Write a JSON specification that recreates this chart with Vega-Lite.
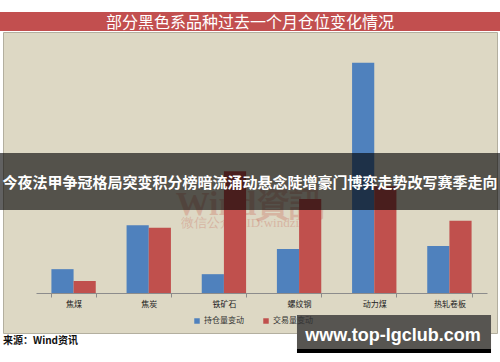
{
  "$schema": "https://vega.github.io/schema/vega-lite/v6.json",
  "width": 494,
  "height": 301,
  "autosize": "none",
  "padding": {"left": 3, "top": 32, "right": 3, "bottom": 29},
  "background": "#ffffff",
  "title": {
    "text": "部分黑色系品种过去一个月仓位变化情况",
    "fontSize": 16,
    "font": "Noto Sans CJK SC",
    "fontWeight": "normal",
    "color": "#ffffff",
    "anchor": "middle",
    "offset": 3,
    "dy": 22,
    "zindex": 1
  },
  "config": {
    "view": {"fill": "#ddd8c4", "stroke": "#b3af9f"},
    "font": "Noto Sans CJK SC"
  },
  "resolve": {"scale": {"x": "independent"}, "axis": {"x": "independent"}},
  "layer": [
    {
      "data": {"values": [{}]},
      "mark": {"type": "text", "text": "Wind資訊", "font": "Liberation Serif", "fontSize": 34, "fontWeight": "bold", "fill": "#c0392b", "opacity": 0.22},
      "encoding": {
        "x": {"datum": 0.5, "type": "quantitative", "scale": {"domain": [0, 1], "nice": false, "zero": false}, "axis": null},
        "y": {"datum": 0.70, "type": "quantitative", "axis": null}
      }
    },
    {
      "data": {"values": [{}]},
      "mark": {"type": "text", "text": "微信公众号ID:windzixun", "font": "Liberation Serif", "fontSize": 13, "fill": "#c0392b", "opacity": 0.22},
      "encoding": {
        "x": {"datum": 0.5, "type": "quantitative", "scale": {"domain": [0, 1], "nice": false, "zero": false}, "axis": null},
        "y": {"datum": 0.554, "type": "quantitative", "axis": null}
      }
    },
    {
      "data": {
        "values": [
          {"品种": "焦煤", "指标": "持仓量变动", "变动": 0.19},
          {"品种": "焦煤", "指标": "交易量变动", "变动": 0.096},
          {"品种": "焦炭", "指标": "持仓量变动", "变动": 0.54},
          {"品种": "焦炭", "指标": "交易量变动", "变动": 0.52},
          {"品种": "铁矿石", "指标": "持仓量变动", "变动": 0.15},
          {"品种": "铁矿石", "指标": "交易量变动", "变动": 0.97},
          {"品种": "螺纹钢", "指标": "持仓量变动", "变动": 0.35},
          {"品种": "螺纹钢", "指标": "交易量变动", "变动": 0.75},
          {"品种": "动力煤", "指标": "持仓量变动", "变动": 1.835},
          {"品种": "动力煤", "指标": "交易量变动", "变动": 0.85},
          {"品种": "热轧卷板", "指标": "持仓量变动", "变动": 0.375},
          {"品种": "热轧卷板", "指标": "交易量变动", "变动": 0.576}
        ]
      },
      "mark": {"type": "bar"},
      "encoding": {
        "x": {
          "field": "品种",
          "type": "nominal",
          "sort": ["焦煤", "焦炭", "铁矿石", "螺纹钢", "动力煤", "热轧卷板"],
          "scale": {"range": [33, 484], "paddingInner": 0.41, "paddingOuter": 0.205},
          "axis": {
            "title": null,
            "offset": -40,
            "tickBand": "extent",
            "labelAngle": 0,
            "labelFontSize": 8,
            "labelColor": "#222222",
            "labelPadding": 3,
            "tickSize": 4,
            "tickColor": "#8c8c8c",
            "domainColor": "#8c8c8c",
            "grid": false
          }
        },
        "xOffset": {"field": "指标", "type": "nominal", "sort": ["持仓量变动", "交易量变动"], "scale": {"paddingInner": 0}},
        "y": {
          "field": "变动",
          "type": "quantitative",
          "stack": null,
          "scale": {"domain": [-0.3187, 2.0797], "nice": false, "zero": false},
          "axis": {
            "title": null,
            "offset": -33,
            "values": [0, 0.2, 0.4, 0.6, 0.8, 1.0, 1.2, 1.4, 1.6, 1.8, 2.0],
            "format": ".0%",
            "grid": true,
            "gridColor": "#efebdc",
            "gridWidth": 1,
            "domainColor": "#8c8c8c",
            "tickColor": "#8c8c8c",
            "tickSize": 3,
            "labelFont": "Liberation Sans",
            "labelFontSize": 7.5,
            "labelColor": "#333333",
            "labelPadding": 3
          }
        },
        "color": {
          "field": "指标",
          "type": "nominal",
          "scale": {"domain": ["持仓量变动", "交易量变动"], "range": ["#4f81bd", "#c0504d"]},
          "legend": {
            "title": null,
            "orient": "none",
            "legendX": 190,
            "legendY": 285,
            "direction": "horizontal",
            "symbolType": "square",
            "symbolSize": 30,
            "symbolStrokeWidth": 0,
            "labelFontSize": 8,
            "labelColor": "#333333",
            "labelOffset": 3,
            "columnPadding": 18,
            "zindex": 1
          }
        }
      }
    },
    {
      "data": {"values": [{}]},
      "mark": {"type": "rect", "fill": "#000000", "opacity": 0.62},
      "encoding": {
        "x": {"datum": -0.007, "type": "quantitative", "scale": {"domain": [0, 1], "nice": false, "zero": false}, "axis": null},
        "x2": {"datum": 1.007},
        "y": {"datum": 1.1155, "type": "quantitative", "axis": null},
        "y2": {"datum": 0.6614}
      }
    },
    {
      "data": {"values": [{}]},
      "mark": {"type": "text", "text": "今夜法甲争冠格局突变积分榜暗流涌动悬念陡增豪门博弈走势改写赛季走向", "font": "Noto Sans CJK SC", "fontSize": 15, "fontWeight": "bold", "fill": "#ffffff"},
      "encoding": {
        "x": {"datum": 0.5, "type": "quantitative", "scale": {"domain": [0, 1], "nice": false, "zero": false}, "axis": null},
        "y": {"datum": 0.8765, "type": "quantitative", "axis": null}
      }
    },
    {
      "data": {"values": [{}]},
      "mark": {"type": "rect", "fill": "#c24f4f"},
      "encoding": {
        "x": {"datum": -0.007, "type": "quantitative", "scale": {"domain": [0, 1], "nice": false, "zero": false}, "axis": null},
        "x2": {"datum": 1.007},
        "y": {"datum": 2.239, "type": "quantitative", "axis": null},
        "y2": {"datum": 2.0876}
      }
    },
    {
      "data": {"values": [{}]},
      "mark": {"type": "text", "text": "来源：Wind资讯", "font": "Noto Sans CJK SC", "fontSize": 10, "fontWeight": "bold", "fill": "#111111", "align": "left"},
      "encoding": {
        "x": {"datum": 0, "type": "quantitative", "scale": {"domain": [0, 1], "nice": false, "zero": false}, "axis": null},
        "y": {"datum": -0.3825, "type": "quantitative", "axis": null}
      }
    },
    {
      "data": {"values": [{}]},
      "mark": {"type": "rect", "fill": "#575551"},
      "encoding": {
        "x": {"datum": 0.5951, "type": "quantitative", "scale": {"domain": [0, 1], "nice": false, "zero": false}, "axis": null},
        "x2": {"datum": 0.9879},
        "y": {"datum": -0.1753, "type": "quantitative", "axis": null},
        "y2": {"datum": -0.4462}
      }
    },
    {
      "data": {"values": [{}]},
      "mark": {"type": "rect", "fill": "#000000"},
      "encoding": {
        "x": {"datum": 0.5951, "type": "quantitative", "scale": {"domain": [0, 1], "nice": false, "zero": false}, "axis": null},
        "x2": {"datum": 0.9879},
        "y": {"datum": -0.4462, "type": "quantitative", "axis": null},
        "y2": {"datum": -0.478}
      }
    },
    {
      "data": {"values": [{}]},
      "mark": {"type": "text", "text": "www.top-lgclub.com", "font": "Liberation Sans", "fontSize": 18, "fontWeight": "bold", "fill": "#ffffff"},
      "encoding": {
        "x": {"datum": 0.7895, "type": "quantitative", "scale": {"domain": [0, 1], "nice": false, "zero": false}, "axis": null},
        "y": {"datum": -0.3426, "type": "quantitative", "axis": null}
      }
    }
  ]
}
